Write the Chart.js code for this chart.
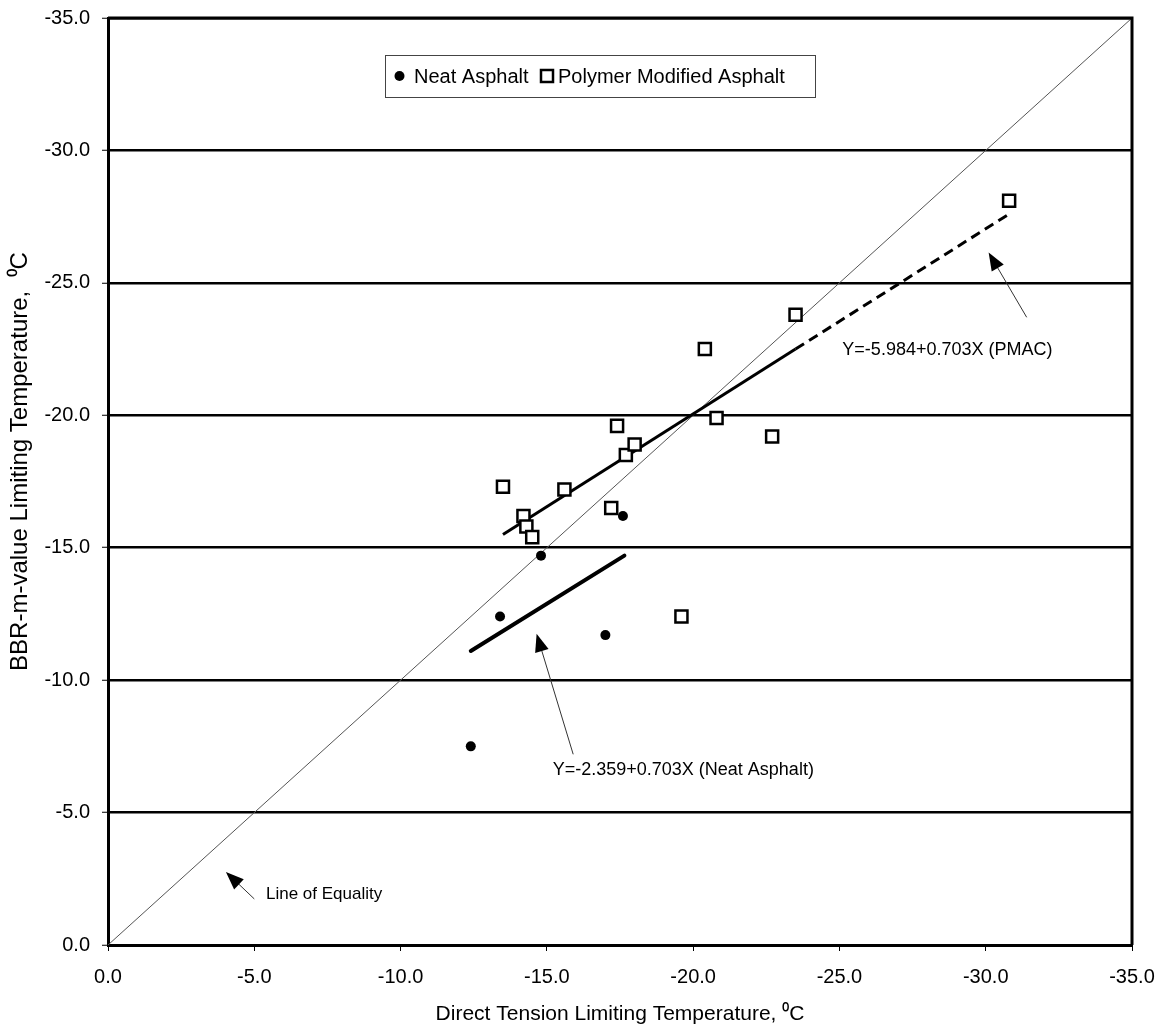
<!DOCTYPE html>
<html>
<head>
<meta charset="utf-8">
<title>BBR m-value vs Direct Tension Limiting Temperature</title>
<script src="https://cdn.jsdelivr.net/npm/chart.js@4.4.0/dist/chart.umd.min.js"></script>
<style>
  html, body { margin: 0; padding: 0; background: #fff; }
  canvas { display: block; }
</style>
</head>
<body>
<canvas id="tempChart" width="1165" height="1034"></canvas>
<script>
// Tick values (same for both axes)
const tickValues = [0, -5, -10, -15, -20, -25, -30, -35];

// Neat asphalt points
const neatX = [-12.4, -13.4, -14.8, -17.0, -17.6];
const neatY = [-7.5, -12.4, -14.7, -11.7, -16.2];

// Polymer modified asphalt points
const pmacX = [-13.5, -14.2, -14.3, -14.5, -15.6, -17.2, -17.4, -17.7, -18.0, -19.6, -20.4, -20.8, -22.7, -23.5, -30.8];
const pmacY = [-17.3, -16.2, -15.8, -15.4, -17.2, -16.5, -19.6, -18.5, -18.9, -12.4, -22.5, -19.9, -19.2, -23.8, -28.1];

// Line of equality
const equalX = [0, -35];
const equalY = [0, -35];

// Regression lines (end points)
const neatFitX = [-12.4, -17.65];
const neatFitY = [-11.1, -14.7];
const pmacFitX = [-13.5, -23.5];
const pmacFitY = [-15.5, -22.5];
const pmacExtX = [-23.5, -30.8];
const pmacExtY = [-22.5, -27.6];

// Annotations: label text, label anchor and arrow (data units)
const noteTexts = ["Y=-5.984+0.703X (PMAC)", "Y=-2.359+0.703X (Neat Asphalt)", "Line of Equality"];
const noteX = [-25.1, -15.2, -5.4];
const noteY = [-22.45, -6.6, -1.93];
const arrowTipX = [-30.1, -14.65, -4.03];
const arrowTipY = [-26.15, -11.75, -2.76];
const arrowTailX = [-31.4, -15.9, -5.0];
const arrowTailY = [-23.7, -7.2, -1.74];

const FONT = '"Liberation Sans", Arial, Helvetica, sans-serif';

function toPoints(xs, ys) {
    return xs.map(function (x, i) { return { x: x, y: ys[i] }; });
}

function drawArrow(ctx, tx, ty, sx, sy) {
    const ang = Math.atan2(ty - sy, tx - sx);
    const len = 18, half = 7;
    ctx.save();
    ctx.strokeStyle = "#333";
    ctx.lineWidth = 1;
    ctx.beginPath();
    ctx.moveTo(sx, sy);
    ctx.lineTo(tx - Math.cos(ang) * len * 0.8, ty - Math.sin(ang) * len * 0.8);
    ctx.stroke();
    ctx.fillStyle = "#000";
    ctx.beginPath();
    ctx.moveTo(tx, ty);
    ctx.lineTo(tx - Math.cos(ang) * len + Math.sin(ang) * half, ty - Math.sin(ang) * len - Math.cos(ang) * half);
    ctx.lineTo(tx - Math.cos(ang) * len - Math.sin(ang) * half, ty - Math.sin(ang) * len + Math.cos(ang) * half);
    ctx.closePath();
    ctx.fill();
    ctx.restore();
}

// Frame, legend box, arrows and notes
const extrasPlugin = {
    id: "extras",
    afterDraw: function (chart) {
        const ctx = chart.ctx;
        const area = chart.chartArea;
        const xs = chart.scales.x, ys = chart.scales.y;

        // right and top edges of the plot frame
        ctx.save();
        ctx.strokeStyle = "#000";
        ctx.lineWidth = 3;
        ctx.beginPath();
        ctx.moveTo(area.left, area.top);
        ctx.lineTo(area.right, area.top);
        ctx.lineTo(area.right, area.bottom);
        ctx.stroke();
        ctx.restore();

        // arrows + notes
        for (let i = 0; i < noteTexts.length; i++) {
            drawArrow(ctx,
                xs.getPixelForValue(arrowTipX[i]), ys.getPixelForValue(arrowTipY[i]),
                xs.getPixelForValue(arrowTailX[i]), ys.getPixelForValue(arrowTailY[i]));
            ctx.save();
            ctx.fillStyle = "#000";
            ctx.font = (i === 2 ? "17px " : "18px ") + FONT;
            ctx.textAlign = "left";
            ctx.textBaseline = "middle";
            ctx.fillText(noteTexts[i], xs.getPixelForValue(noteX[i]), ys.getPixelForValue(noteY[i]));
            ctx.restore();
        }

        // legend box
        const lx = 385, ly = 55, lw = 430, lh = 42, cy = ly + lh / 2;
        ctx.save();
        ctx.fillStyle = "#fff";
        ctx.fillRect(lx, ly, lw, lh);
        ctx.strokeStyle = "#444";
        ctx.lineWidth = 1;
        ctx.strokeRect(lx + 0.5, ly + 0.5, lw, lh);
        ctx.fillStyle = "#000";
        ctx.beginPath();
        ctx.arc(399.5, cy, 5, 0, Math.PI * 2);
        ctx.fill();
        ctx.font = "20px " + FONT;
        ctx.textBaseline = "middle";
        ctx.fillText(chart.data.datasets[0].label, 414, cy + 1);
        ctx.strokeStyle = "#000";
        ctx.lineWidth = 2.5;
        ctx.strokeRect(541, cy - 6, 12, 12);
        ctx.fillText(chart.data.datasets[1].label, 558, cy + 1);
        ctx.restore();
    }
};

const ctx = document.getElementById("tempChart").getContext("2d");
Chart.defaults.font.family = FONT;
Chart.defaults.color = "#000";

window.tempChartInstance = new Chart(ctx, {
    type: "scatter",
    data: {
        datasets: [
            {
                label: "Neat Asphalt",
                data: toPoints(neatX, neatY),
                pointStyle: "circle",
                pointRadius: 5,
                backgroundColor: "#000",
                borderColor: "#000",
                borderWidth: 0,
                order: 1
            },
            {
                label: "Polymer Modified Asphalt",
                data: toPoints(pmacX, pmacY),
                pointStyle: "rect",
                pointRadius: 8.5,
                backgroundColor: "#fff",
                borderColor: "#000",
                borderWidth: 2.5,
                order: 0
            },
            {
                label: "Line of Equality",
                data: toPoints(equalX, equalY),
                showLine: true,
                pointRadius: 0,
                borderColor: "#555",
                borderWidth: 1,
                order: 5
            },
            {
                label: "Neat fit",
                data: toPoints(neatFitX, neatFitY),
                showLine: true,
                pointRadius: 0,
                borderColor: "#000",
                borderWidth: 4,
                borderCapStyle: "round",
                order: 4
            },
            {
                label: "PMAC fit",
                data: toPoints(pmacFitX, pmacFitY),
                showLine: true,
                pointRadius: 0,
                borderColor: "#000",
                borderWidth: 3,
                order: 3
            },
            {
                label: "PMAC fit (extended)",
                data: toPoints(pmacExtX, pmacExtY),
                showLine: true,
                pointRadius: 0,
                borderColor: "#000",
                borderWidth: 3,
                borderDash: [10, 6],
                order: 3
            }
        ]
    },
    options: {
        responsive: false,
        animation: false,
        layout: {
            padding: { top: 18, right: 33, left: 0, bottom: 0 }
        },
        plugins: {
            legend: { display: false },
            tooltip: { enabled: false }
        },
        scales: {
            x: {
                type: "linear",
                min: -35,
                max: 0,
                reverse: true,
                afterBuildTicks: function (scale) {
                    scale.ticks = tickValues.map(function (v) { return { value: v }; });
                },
                afterFit: function (scale) {
                    // fixed band under the plot, no extra side padding
                    scale.height = 89;
                    scale.paddingLeft = 0;
                    scale.paddingRight = 0;
                },
                ticks: {
                    font: { size: 20 },
                    padding: 14,
                    maxRotation: 0,
                    autoSkip: false,
                    callback: function (v) { return Number(v).toFixed(1); }
                },
                grid: {
                    drawOnChartArea: false,
                    drawTicks: true,
                    tickLength: 6,
                    tickColor: "#000",
                    tickWidth: 1
                },
                border: { color: "#000", width: 3 },
                title: {
                    display: true,
                    text: "Direct Tension Limiting Temperature, \u2070C",
                    font: { size: 21 },
                    padding: { top: 0, bottom: 7 }
                }
            },
            y: {
                type: "linear",
                min: -35,
                max: 0,
                reverse: true,
                afterBuildTicks: function (scale) {
                    scale.ticks = tickValues.map(function (v) { return { value: v }; });
                },
                afterFit: function (scale) {
                    scale.width = 108;
                    scale.paddingTop = 0;
                    scale.paddingBottom = 0;
                },
                ticks: {
                    font: { size: 20 },
                    padding: 12,
                    callback: function (v) { return Number(v).toFixed(1); }
                },
                grid: {
                    color: "#000",
                    lineWidth: 2.5,
                    tickLength: 6,
                    tickColor: "#000",
                    tickWidth: 1
                },
                border: { color: "#000", width: 3 },
                title: {
                    display: true,
                    text: "      BBR-m-value Limiting Temperature,  \u2070C",
                    font: { size: 24 },
                    padding: { top: 6, bottom: 0 }
                }
            }
        }
    },
    plugins: [extrasPlugin]
});
</script>
</body>
</html>
